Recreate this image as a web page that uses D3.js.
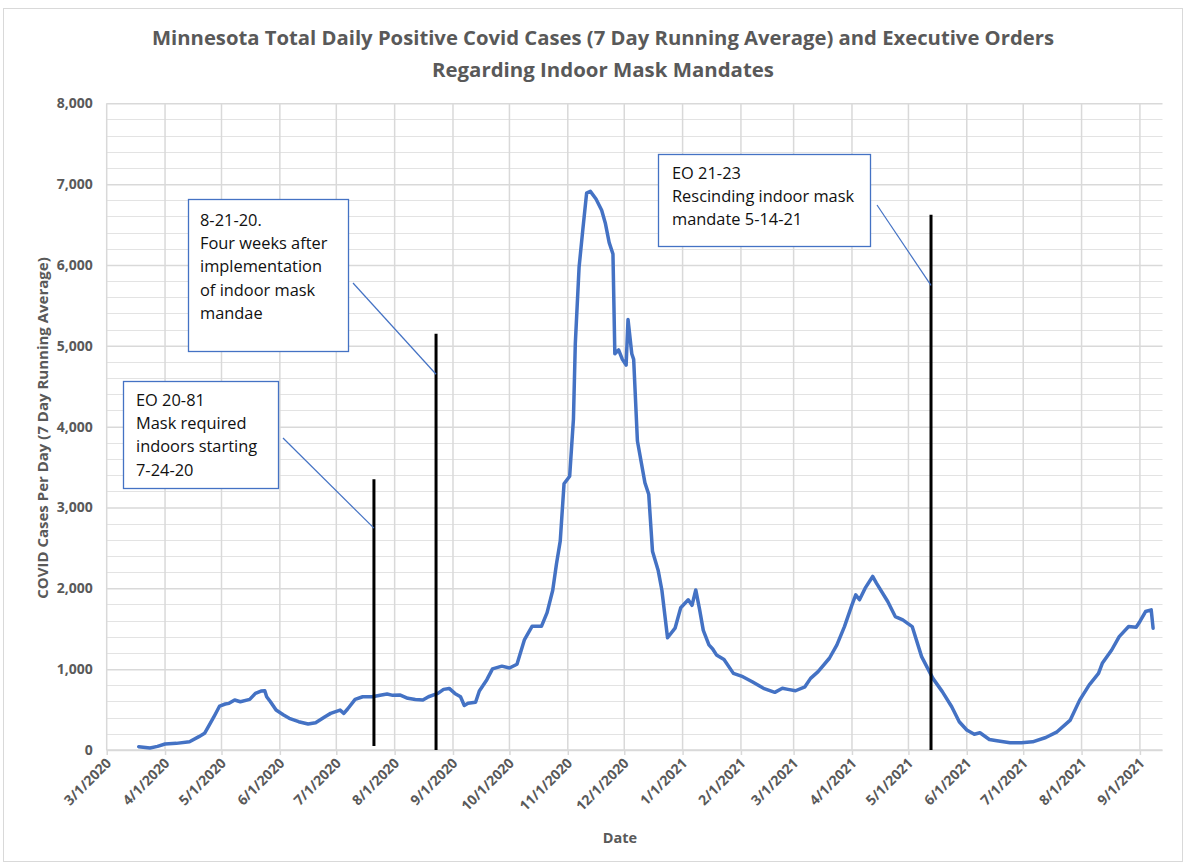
<!DOCTYPE html>
<html>
<head>
<meta charset="utf-8">
<script src="https://cdn.jsdelivr.net/npm/d3@7"></script>
<style>
  body { margin: 0; background: #fff; }
  text { font-family: "Open Sans", "Liberation Sans", sans-serif; }
</style>
</head>
<body>
<div id="chart"></div>
<script>
// Daily positive cases (7 day running average)
var caseDates = [
  "2020-03-18","2020-03-24","2020-03-28","2020-04-01","2020-04-07","2020-04-14","2020-04-19","2020-04-22",
  "2020-04-25","2020-04-27","2020-04-30","2020-05-03","2020-05-05","2020-05-08","2020-05-11","2020-05-16",
  "2020-05-19","2020-05-22","2020-05-24","2020-05-25","2020-05-27","2020-05-30","2020-06-03","2020-06-06",
  "2020-06-11","2020-06-16","2020-06-20","2020-06-25","2020-06-28","2020-07-03","2020-07-05","2020-07-07",
  "2020-07-11","2020-07-15","2020-07-20","2020-07-25","2020-07-28","2020-07-31","2020-08-04","2020-08-08",
  "2020-08-12","2020-08-16","2020-08-19","2020-08-24","2020-08-27","2020-08-30","2020-09-02","2020-09-05",
  "2020-09-07","2020-09-09","2020-09-13","2020-09-15","2020-09-19","2020-09-22","2020-09-27","2020-10-01",
  "2020-10-05","2020-10-09","2020-10-13","2020-10-18","2020-10-21","2020-10-24","2020-10-26","2020-10-28",
  "2020-10-30","2020-11-02","2020-11-04","2020-11-05","2020-11-07","2020-11-09","2020-11-11","2020-11-13",
  "2020-11-16","2020-11-19","2020-11-21","2020-11-23","2020-11-25","2020-11-26","2020-11-28","2020-11-30",
  "2020-12-02","2020-12-03","2020-12-05","2020-12-06","2020-12-08","2020-12-12","2020-12-14","2020-12-16",
  "2020-12-19","2020-12-21","2020-12-24","2020-12-28","2020-12-31","2021-01-04","2021-01-06","2021-01-08",
  "2021-01-10","2021-01-12","2021-01-15","2021-01-17","2021-01-19","2021-01-23","2021-01-28","2021-02-02",
  "2021-02-07","2021-02-13","2021-02-19","2021-02-23","2021-02-26","2021-03-02","2021-03-07","2021-03-10",
  "2021-03-14","2021-03-20","2021-03-24","2021-03-28","2021-04-01","2021-04-03","2021-04-05","2021-04-08",
  "2021-04-12","2021-04-14","2021-04-20","2021-04-24","2021-04-28","2021-05-03","2021-05-08","2021-05-14",
  "2021-05-19","2021-05-24","2021-05-28","2021-06-01","2021-06-05","2021-06-08","2021-06-13","2021-06-17",
  "2021-06-24","2021-06-30","2021-07-06","2021-07-13","2021-07-19","2021-07-26","2021-07-31","2021-08-05",
  "2021-08-10","2021-08-12","2021-08-17","2021-08-21","2021-08-26","2021-08-30","2021-09-01","2021-09-04",
  "2021-09-07","2021-09-08"
];
var caseValues = [
  41, 25, 45, 74, 82, 103, 165, 206,
  330, 412, 544, 569, 577, 618, 597, 626,
  700, 729, 733, 659, 597, 494, 433, 392,
  350, 321, 337, 412, 453, 494, 453, 507,
  626, 659, 659, 680, 692, 676, 680, 639,
  626, 618, 659, 700, 750, 762, 700, 659,
  550, 577, 590, 730, 870, 1004, 1037, 1014,
  1061, 1366, 1530, 1530, 1700, 1976, 2305, 2587,
  3293, 3387, 4092, 5031, 5972, 6441, 6888, 6911,
  6817, 6676, 6512, 6277, 6136, 4902, 4949, 4832,
  4761, 5325, 4902, 4832, 3822, 3305, 3164, 2460,
  2225, 1976, 1389, 1507, 1760, 1858, 1789, 1980,
  1742, 1480, 1300, 1250, 1176, 1120, 948, 907,
  845, 763, 713, 763, 750, 733, 782, 886,
  969, 1135, 1300, 1527, 1796, 1920, 1858, 2002,
  2147, 2064, 1837, 1651, 1609, 1527, 1155, 886,
  722, 535, 350, 247, 195, 213, 130, 114,
  89, 89, 101, 155, 225, 370, 617, 803,
  948, 1072, 1237, 1403, 1527, 1519, 1590, 1713,
  1734, 1507
];

// Executive order markers
var eoDates = ["2020-07-21", "2020-08-23", "2021-05-13"];
var eoTops = [3350, 5150, 6620];
var eoBottoms = [50, 0, 0];
var eoPointers = [2744, 4648, 5748];
var eoNotes = [
  ["EO 20-81", "Mask required", "indoors starting", "7-24-20"],
  ["8-21-20.", "Four weeks after", "implementation", "of indoor mask", "mandae"],
  ["EO 21-23", "Rescinding indoor mask", "mandate 5-14-21"]
];

var titleLines = [
  "Minnesota Total Daily Positive Covid Cases (7 Day Running Average) and Executive Orders",
  "Regarding Indoor Mask Mandates"
];
var yTicks = [0, 1000, 2000, 3000, 4000, 5000, 6000, 7000, 8000];

var svgWidth = 1187;
var svgHeight = 865;
var plot = { left: 106.7, right: 1162.5, top: 103.3, bottom: 750 };

var parseDate = d3.utcParse("%Y-%m-%d");
var series = caseDates.map(function(d, i) {
  return { date: parseDate(d), value: caseValues[i] };
});

var svg = d3.select("#chart")
  .append("svg")
  .attr("width", svgWidth)
  .attr("height", svgHeight);

// outer chart border
svg.append("rect")
  .attr("x", 3.5).attr("y", 8.5)
  .attr("width", 1179).attr("height", 853)
  .attr("fill", "#fff")
  .attr("stroke", "#d9d9d9");

var x = d3.scaleUtc()
  .domain([parseDate("2020-03-01"), parseDate("2021-09-13")])
  .range([plot.left, plot.right]);

var y = d3.scaleLinear()
  .domain([0, 8000])
  .range([plot.bottom, plot.top]);

var monthTicks = d3.utcMonth.range(parseDate("2020-03-01"), parseDate("2021-09-02"));

// minor gridlines
svg.append("g")
  .selectAll("line")
  .data(d3.range(200, 8000, 200).filter(function(v) { return v % 1000 !== 0; }))
  .enter()
  .append("line")
  .attr("x1", plot.left).attr("x2", plot.right)
  .attr("y1", function(d) { return Math.round(y(d)) + 0.5; })
  .attr("y2", function(d) { return Math.round(y(d)) + 0.5; })
  .attr("stroke", "#e3e3e3")
  .attr("stroke-width", 1);

// vertical gridlines
svg.append("g")
  .selectAll("line")
  .data(monthTicks)
  .enter()
  .append("line")
  .attr("x1", function(d) { return x(d); })
  .attr("x2", function(d) { return x(d); })
  .attr("y1", plot.top).attr("y2", plot.bottom)
  .attr("stroke", "#d9d9d9")
  .attr("stroke-width", 1.5);

// major gridlines + y labels
var yAxis = d3.axisLeft(y)
  .tickValues(yTicks)
  .tickFormat(d3.format(","))
  .tickSize(-(plot.right - plot.left))
  .tickPadding(14);

var yG = svg.append("g")
  .attr("transform", "translate(" + plot.left + ",0)")
  .call(yAxis);
yG.select(".domain").remove();
yG.selectAll(".tick line")
  .attr("stroke", "#d9d9d9")
  .attr("stroke-width", 1.5);
yG.selectAll(".tick text")
  .attr("fill", "#595959")
  .style("font-size", "14px")
  .style("font-weight", "bold");

// x axis
var xAxis = d3.axisBottom(x)
  .tickValues(monthTicks)
  .tickFormat(d3.utcFormat("%-m/%-d/%Y"))
  .tickSize(5);

var xG = svg.append("g")
  .attr("transform", "translate(0," + plot.bottom + ")")
  .call(xAxis);
xG.select(".domain")
  .attr("stroke", "#d9d9d9")
  .attr("stroke-width", 1.5)
  .attr("d", "M" + plot.left + ",0H" + plot.right);
xG.selectAll(".tick line")
  .attr("stroke", "#d9d9d9")
  .attr("stroke-width", 1.5);
xG.selectAll(".tick text")
  .attr("fill", "#595959")
  .style("font-size", "14px")
  .style("font-weight", "bold")
  .attr("text-anchor", "end")
  .attr("dy", null)
  .attr("y", null)
  .attr("transform", "translate(5,14) rotate(-45)");

// case line
var line = d3.line()
  .x(function(d) { return x(d.date); })
  .y(function(d) { return y(d.value); });

svg.append("path")
  .datum(series)
  .attr("d", line)
  .attr("fill", "none")
  .attr("stroke", "#4472C4")
  .attr("stroke-width", 3.5)
  .attr("stroke-linejoin", "round")
  .attr("stroke-linecap", "round");

// executive order markers
svg.append("g")
  .selectAll("line")
  .data(eoDates)
  .enter()
  .append("line")
  .attr("x1", function(d) { return x(parseDate(d)); })
  .attr("x2", function(d) { return x(parseDate(d)); })
  .attr("y1", function(d, i) { return y(eoTops[i]); })
  .attr("y2", function(d, i) { return y(eoBottoms[i]); })
  .attr("stroke", "#000")
  .attr("stroke-width", 3);

// callout boxes
var boxes = [
  { x: 123, y: 381, w: 155, h: 107, tx: 136, ty: 406, lx: 283, ly: 438 },
  { x: 188, y: 199, w: 160, h: 152, tx: 200, ty: 226, lx: 353, ly: 283 },
  { x: 658, y: 154, w: 212, h: 92, tx: 672, ty: 179, lx: 877, ly: 205 }
];

boxes.forEach(function(b, i) {
  svg.append("line")
    .attr("x1", b.lx).attr("y1", b.ly)
    .attr("x2", x(parseDate(eoDates[i])))
    .attr("y2", y(eoPointers[i]))
    .attr("stroke", "#4472C4")
    .attr("stroke-width", 1.2);

  svg.append("rect")
    .attr("x", b.x + 0.5).attr("y", b.y + 0.5)
    .attr("width", b.w).attr("height", b.h)
    .attr("fill", "#fff")
    .attr("stroke", "#4472C4")
    .attr("stroke-width", 1.3);

  svg.append("text")
    .style("font-size", "16.4px")
    .attr("fill", "#111")
    .selectAll("tspan")
    .data(eoNotes[i])
    .enter()
    .append("tspan")
    .attr("x", b.tx)
    .attr("y", function(d, j) { return b.ty + j * 23.2; })
    .text(function(d) { return d; });
});

// title
svg.append("text")
  .selectAll("tspan")
  .data(titleLines)
  .enter()
  .append("tspan")
  .attr("x", 603)
  .attr("y", function(d, i) { return 45 + i * 32; })
  .attr("text-anchor", "middle")
  .attr("textLength", function(d, i) { return i === 0 ? 902 : 342; })
  .attr("lengthAdjust", "spacingAndGlyphs")
  .attr("fill", "#595959")
  .style("font-size", "19px")
  .style("font-weight", "bold")
  .text(function(d) { return d; });

// axis titles
svg.append("text")
  .attr("transform", "translate(48,428) rotate(-90)")
  .attr("text-anchor", "middle")
  .attr("fill", "#595959")
  .style("font-size", "15px")
  .style("font-weight", "bold")
  .text("COVID Cases Per Day (7 Day Running Average)");

svg.append("text")
  .attr("x", 620)
  .attr("y", 843)
  .attr("text-anchor", "middle")
  .attr("fill", "#595959")
  .style("font-size", "14.5px")
  .style("font-weight", "bold")
  .text("Date");
</script>
</body>
</html>
